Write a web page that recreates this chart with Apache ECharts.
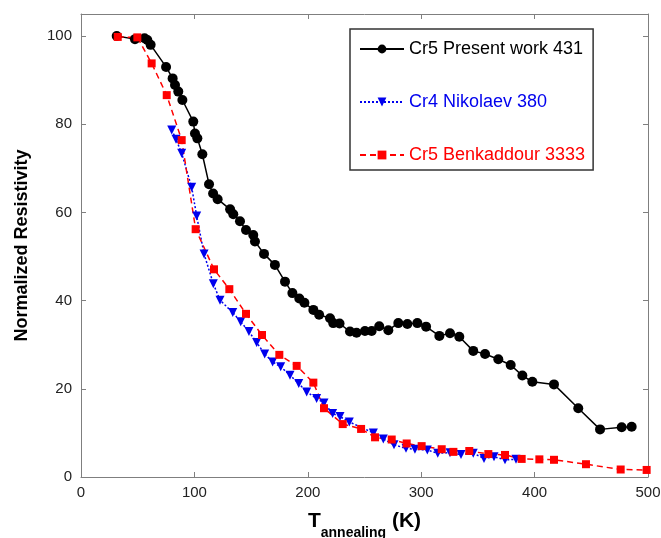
<!DOCTYPE html>
<html>
<head>
<meta charset="utf-8">
<script src="https://cdn.jsdelivr.net/npm/echarts@6/dist/echarts.min.js"></script>
<style>
  html, body { margin: 0; padding: 0; background: #fff; }
  #chart { width: 661px; height: 538px; }
</style>
</head>
<body>
<div id="chart"></div>
<script>
// Cr5 present work 431 (T in K, normalized resistivity)
var presentWork = [
  [31.5,100],[47.6,99.3],[56,99.5],[58.5,99.1],[61.4,98],[75,93],[80.8,90.4],[82.9,88.9],
  [85.8,87.4],[89.4,85.5],[99,80.6],[100.5,77.9],[102.6,76.8],[107,73.2],[112.9,66.4],
  [116.5,64.3],[120.5,63],[131.5,60.7],[134.3,59.6],[140.2,58],[145.5,56],[151.9,54.9],
  [153.4,53.4],[161.4,50.6],[171,48.1],[179.9,44.3],[186.4,41.7],[192.5,40.5],[197,39.5],
  [204.9,37.9],[210,36.8],[219.6,36],[222.4,34.9],[228,34.8],[237.2,33],[243,32.7],
  [250.4,33.1],[256.3,33.1],[263,34.2],[271,33.3],[279.8,34.9],[287.8,34.7],[296.6,34.9],
  [304.3,34.1],[316,32],[325.4,32.6],[333.6,31.8],[345.9,28.6],[356.3,27.9],[368,26.7],
  [378.9,25.4],[389.2,23],[398,21.6],[417.1,21],[438.5,15.6],[457.7,10.8],[476.8,11.3],[485.6,11.4]
];
// Cr4 Nikolaev 380
var nikolaev = [
  [80,78.7],[83.8,76.6],[88.8,73.4],[97.6,65.7],[102,59.2],[108.5,50.6],[116.7,43.8],
  [122.6,40.1],[133.8,37.3],[140.8,35.2],[148.1,33],[154.9,30.5],[162,27.9],[169,26.1],
  [176.1,25],[184.3,23.1],[192,21.2],[199,19.3],[207.8,17.8],[214.3,16.8],[221.9,14.4],
  [228.4,13.7],[236.6,12.5],[257.8,10],[266.6,8.6],[276,7.3],[286.6,6.5],[294.5,6.3],
  [305.4,6.1],[314.6,5.4],[325.4,5.5],[335.1,5.1],[345.9,5.4],[355.4,4.2],[364.2,4.6],
  [373.9,3.9],[383.6,4]
];
// Cr5 Benkaddour 3333
var benkaddour = [
  [32.4,99.8],[49.7,99.7],[62.3,93.8],[75.6,86.6],[88.8,76.4],[101.1,56.2],[117.3,47.1],
  [130.8,42.6],[145.5,37],[159.6,32.2],[174.9,27.7],[190.2,25.2],[204.9,21.4],[214.3,15.6],
  [230.8,12],[247,10.9],[259.3,9],[274,8.5],[287.2,7.6],[300.4,7],[318.1,6.3],[328.4,5.7],
  [342.4,5.9],[359.2,5.2],[373.9,5],[388.6,4.1],[404.2,4],[417.1,3.9],[445.3,2.9],
  [475.9,1.7],[498.8,1.6]
];
var names = ['Cr5 Present work 431', 'Cr4 Nikolaev 380', 'Cr5 Benkaddour 3333'];
var colors = ['#000000', '#0000ee', '#ff0000'];

var font = 'Arial, "Liberation Sans", sans-serif';
var axisGray = '#7f7f7f';

var myChart = echarts.init(document.getElementById('chart'));
myChart.setOption({
  animation: false,
  backgroundColor: '#fff',
  grid: { left: 81, right: 13, top: 14, bottom: 61, outerBoundsMode: 'none' },
  legend: {
    orient: 'vertical',
    left: 350,
    top: 29,
    padding: [11, 8, 6, 9],
    itemGap: 35,
    itemWidth: 44,
    itemHeight: 11,
    borderColor: '#333',
    borderWidth: 1.5,
    backgroundColor: '#fff',
    textStyle: { fontSize: 18, fontFamily: font },
    data: [
      { name: names[0], textStyle: { color: colors[0] } },
      { name: names[1], textStyle: { color: colors[1] } },
      { name: names[2], textStyle: { color: colors[2] } }
    ]
  },
  xAxis: [{
    type: 'value', min: 0, max: 500, interval: 100,
    name: '{t|T}{s|annealing}{k| (K)}',
    nameLocation: 'middle', nameGap: 25,
    nameTextStyle: {
      rich: {
        t: { fontSize: 21, fontWeight: 'bold', fontFamily: font, color: '#000' },
        s: { fontSize: 14, fontWeight: 'bold', fontFamily: font, color: '#000', padding: [24, 0, 0, 0] },
        k: { fontSize: 21, fontWeight: 'bold', fontFamily: font, color: '#000' }
      }
    },
    splitLine: { show: false },
    axisLine: { onZero: false, lineStyle: { color: axisGray, width: 1 } },
    axisTick: { inside: true, length: 5, lineStyle: { color: axisGray } },
    axisLabel: { fontSize: 15, color: '#222', fontFamily: font, margin: 8 }
  }, {
    type: 'value', min: 0, max: 500, interval: 100, position: 'top',
    splitLine: { show: false },
    axisLine: { show: true, onZero: false, lineStyle: { color: axisGray, width: 1 } },
    axisTick: { inside: true, length: 5, lineStyle: { color: axisGray } },
    axisLabel: { show: false }
  }],
  yAxis: [{
    type: 'value', min: 0, max: 105, interval: 20,
    name: 'Normalized Resistivity',
    nameLocation: 'middle', nameGap: 50,
    nameTextStyle: { fontSize: 18, fontWeight: 'bold', fontFamily: font, color: '#000' },
    splitLine: { show: false },
    axisLine: { show: true, onZero: false, lineStyle: { color: axisGray, width: 1 } },
    axisTick: { inside: true, length: 5, lineStyle: { color: axisGray } },
    axisLabel: {
      fontSize: 15, color: '#222', fontFamily: font, margin: 9,
      formatter: function (v) { return v % 20 === 0 ? String(v) : ''; }
    }
  }, {
    type: 'value', min: 0, max: 105, interval: 20, position: 'right',
    splitLine: { show: false },
    axisLine: { show: true, onZero: false, lineStyle: { color: axisGray, width: 1 } },
    axisTick: { inside: true, length: 5, lineStyle: { color: axisGray } },
    axisLabel: { show: false }
  }],
  series: [
    {
      name: names[0], type: 'line', data: presentWork,
      symbol: 'circle', symbolSize: 10,
      itemStyle: { color: colors[0] },
      lineStyle: { color: colors[0], width: 1.5, type: 'solid' }
    },
    {
      name: names[1], type: 'line', data: nikolaev,
      symbol: 'triangle', symbolSize: 9, symbolRotate: 180,
      itemStyle: { color: colors[1] },
      lineStyle: { color: colors[1], width: 1.5, type: [2, 2] }
    },
    {
      name: names[2], type: 'line', data: benkaddour,
      symbol: 'rect', symbolSize: 8,
      itemStyle: { color: colors[2] },
      lineStyle: { color: colors[2], width: 1.5, type: [6, 4] }
    }
  ]
});
</script>
</body>
</html>
